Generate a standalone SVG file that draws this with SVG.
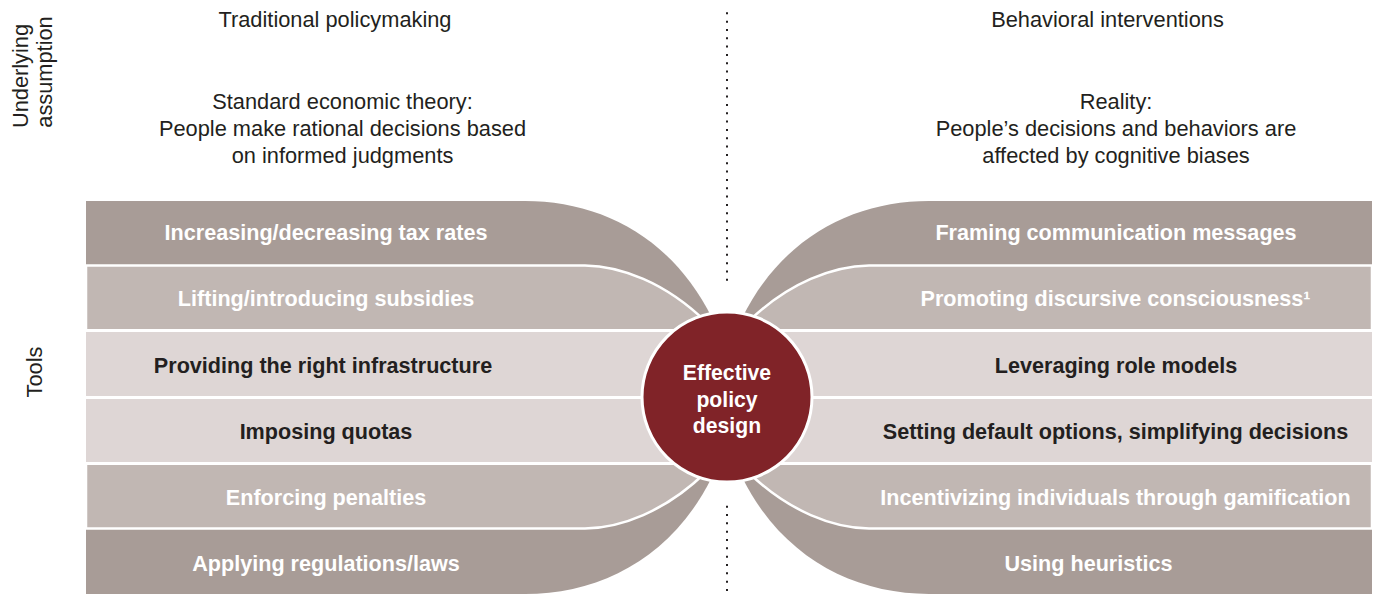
<svg xmlns="http://www.w3.org/2000/svg" width="1375" height="595" viewBox="0 0 1375 595">
<style>
text{font-family:"Liberation Sans",Arial,Helvetica,sans-serif;}
.hd{font-size:21.8px;fill:#231f20;text-anchor:middle;}
.bw{font-size:21.6px;font-weight:bold;fill:#ffffff;text-anchor:middle;}
.bd{font-size:21.6px;font-weight:bold;fill:#231f20;text-anchor:middle;}
.dark{fill:#a89c97;}
.med{fill:#c1b7b3;stroke:#ffffff;stroke-width:2.5;}
.light{fill:#ded6d5;}
.dots{stroke:#231f20;stroke-width:2;stroke-dasharray:2 6.33;fill:none;}
</style>
<rect width="1375" height="595" fill="#ffffff"/>
<g id="side-labels">
<text class="hd" transform="translate(28,76) rotate(-90)">Underlying</text>
<text class="hd" transform="translate(52,72) rotate(-90)">assumption</text>
<text class="hd" transform="translate(42,372) rotate(-90)">Tools</text>
</g>
<g id="headers">
<text class="hd" x="335" y="27">Traditional policymaking</text>
<text class="hd" x="1107.5" y="27">Behavioral interventions</text>
<text class="hd" x="342.5" y="108.5">Standard economic theory:</text>
<text class="hd" x="342.5" y="135.5">People make rational decisions based</text>
<text class="hd" x="342.5" y="162.5">on informed judgments</text>
<text class="hd" x="1116" y="108.5">Reality:</text>
<text class="hd" x="1116" y="135.5">People’s decisions and behaviors are</text>
<text class="hd" x="1116" y="162.5">affected by cognitive biases</text>
</g>
<g id="connectors">
<line class="dots" x1="727" y1="12.3" x2="727" y2="286"/>
<line class="dots" x1="727" y1="505.7" x2="727" y2="595"/>
</g>
<g id="left-bands">
<path class="dark" d="M86,201 H525 C600,201 672,237 712,318 L712,477 C672,558 600,594 525,594 H86 Z"/>
<path class="med" d="M86,265.5 H585 C620,266 665,282 706,322 L706,472 C665,512 620,528 585,528.5 H86 Z"/>
<rect x="86" y="329" width="641" height="136" fill="#ffffff"/>
<rect class="light" x="86" y="332" width="641" height="64"/>
<rect class="light" x="86" y="399" width="641" height="63"/>
</g>
<g id="right-bands">
<path class="dark" d="M1372,201 H929 C854,201 782,237 742,318 L742,477 C782,558 854,594 929,594 H1372 Z"/>
<path class="med" d="M1372,265.5 H869 C834,266 789,282 748,322 L748,472 C789,512 834,528 869,528.5 H1372 Z"/>
<rect x="727" y="329" width="645" height="136" fill="#ffffff"/>
<rect class="light" x="727" y="332" width="645" height="64"/>
<rect class="light" x="727" y="399" width="645" height="63"/>
</g>
<g id="left-tools">
<text class="bw" x="326" y="240">Increasing/decreasing tax rates</text>
<text class="bw" x="326" y="306">Lifting/introducing subsidies</text>
<text class="bd" x="323" y="373">Providing the right infrastructure</text>
<text class="bd" x="326" y="439">Imposing quotas</text>
<text class="bw" x="326" y="505">Enforcing penalties</text>
<text class="bw" x="326" y="571">Applying regulations/laws</text>
</g>
<g id="right-tools">
<text class="bw" x="1116" y="240">Framing communication messages</text>
<text class="bw" x="1115.5" y="306">Promoting discursive consciousness¹</text>
<text class="bd" x="1116" y="373">Leveraging role models</text>
<text class="bd" x="1115.5" y="439">Setting default options, simplifying decisions</text>
<text class="bw" x="1115.5" y="505">Incentivizing individuals through gamification</text>
<text class="bw" x="1088.5" y="571">Using heuristics</text>
</g>
<g id="center">
<circle cx="727" cy="397" r="85" fill="#802328" stroke="#ffffff" stroke-width="3"/>
<text class="bw" x="727" y="380" style="font-size:21.2px">Effective</text>
<text class="bw" x="727" y="406.5" style="font-size:21.2px">policy</text>
<text class="bw" x="727" y="433" style="font-size:21.2px">design</text>
</g>
</svg>
